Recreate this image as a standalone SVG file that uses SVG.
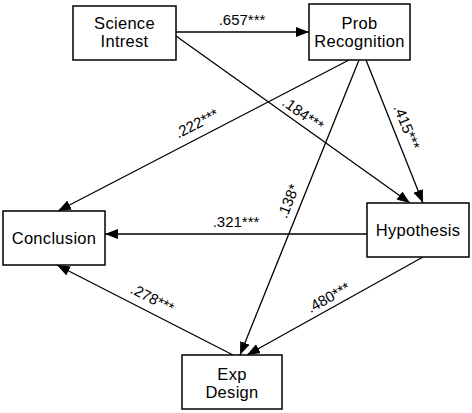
<svg xmlns="http://www.w3.org/2000/svg" width="472" height="413" viewBox="0 0 472 413">
<style>
.box{fill:#fff;stroke:#000;stroke-width:1.5}
.nt{font-family:"Liberation Sans",Arial,sans-serif;font-size:16.5px;letter-spacing:0.3px;text-anchor:middle;fill:#000}
.lb{font-family:"Liberation Sans",Arial,sans-serif;font-size:15px;text-anchor:middle;fill:#000}
.cn{stroke:#000;stroke-width:1.3;fill:none;marker-end:url(#ah)}
</style>
<defs>
<marker id="ah" markerUnits="userSpaceOnUse" markerWidth="14" markerHeight="10" refX="13" refY="5" orient="auto">
<path d="M0,0 L13,5 L0,10 Z" fill="#000"/>
</marker>
</defs>
<rect width="472" height="413" fill="#fff"/>
<g id="connectors">
<line class="cn" x1="176" y1="32" x2="309" y2="32"/>
<line class="cn" x1="176" y1="36" x2="410" y2="203"/>
<line class="cn" x1="349" y1="60" x2="58" y2="211"/>
<line class="cn" x1="366" y1="60" x2="423" y2="203"/>
<line class="cn" x1="359" y1="60" x2="240" y2="355"/>
<line class="cn" x1="367" y1="234" x2="105" y2="234"/>
<line class="cn" x1="423" y1="257" x2="247" y2="355"/>
<line class="cn" x1="233" y1="355" x2="57" y2="265"/>
<text class="lb" x="242" y="25">.657***</text>
<text class="lb" transform="translate(199,128) rotate(-27)">.222***</text>
<text class="lb" transform="translate(300,118) rotate(35.5)">.184***</text>
<text class="lb" transform="translate(402,129) rotate(68)">.415***</text>
<text class="lb" transform="translate(293,203) rotate(-68)">.138*</text>
<text class="lb" x="236" y="227">.321***</text>
<text class="lb" transform="translate(150,303) rotate(27)">.278***</text>
<text class="lb" transform="translate(331,302) rotate(-29)">.480***</text>
</g>
<g id="science-intrest">
<rect class="box" x="73" y="6" width="103" height="54"/>
<text class="nt" x="124.5" y="29">Science</text>
<text class="nt" x="124.5" y="47">Intrest</text>
</g>
<g id="prob-recognition">
<rect class="box" x="309" y="4" width="101" height="56"/>
<text class="nt" x="359.5" y="29">Prob</text>
<text class="nt" x="359.5" y="47">Recognition</text>
</g>
<g id="conclusion">
<rect class="box" x="3" y="211" width="102" height="54"/>
<text class="nt" x="54" y="244">Conclusion</text>
</g>
<g id="hypothesis">
<rect class="box" x="367" y="203" width="102" height="54"/>
<text class="nt" x="418" y="236">Hypothesis</text>
</g>
<g id="exp-design">
<rect class="box" x="182" y="355" width="100" height="54"/>
<text class="nt" x="232" y="380">Exp</text>
<text class="nt" x="232" y="398">Design</text>
</g>
</svg>
